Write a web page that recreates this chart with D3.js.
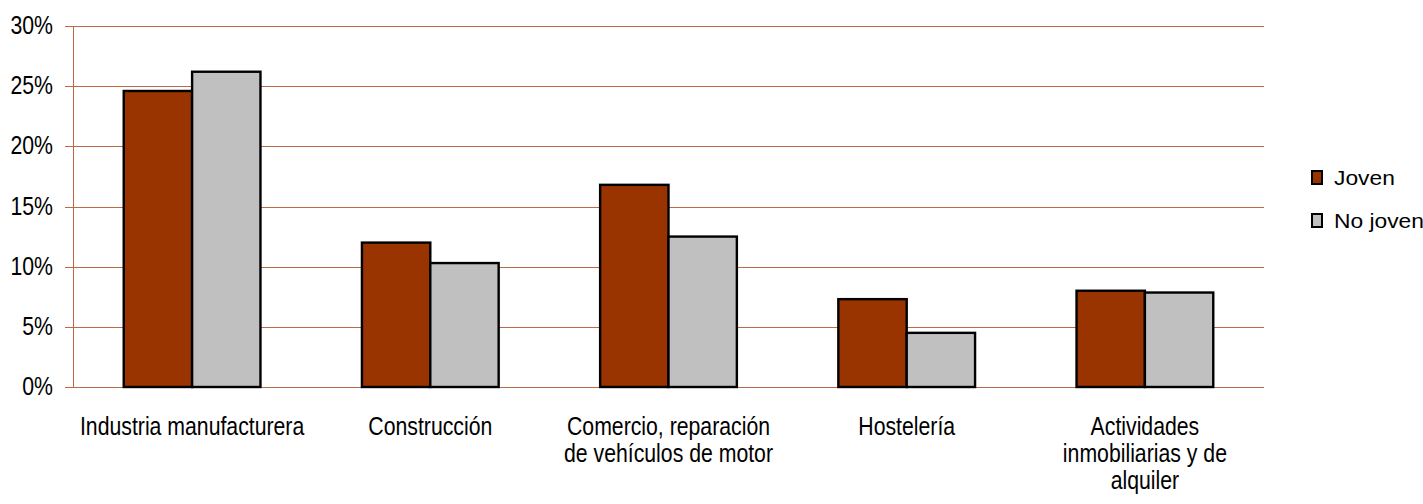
<!DOCTYPE html>
<html>
<head>
<meta charset="utf-8">
<script src="https://cdn.jsdelivr.net/npm/d3@7"></script>
<style>
  html, body { margin: 0; padding: 0; background: #fff; }
  svg { display: block; }
  text { font-family: "Liberation Sans", Arial, sans-serif; }
</style>
</head>
<body>
<svg id="chart"></svg>
<script>
// Data
const categories = [
  "Industria manufacturera",
  "Construcción",
  "Comercio, reparación de vehículos de motor",
  "Hostelería",
  "Actividades inmobiliarias y de alquiler"
];
// wrapped label lines as in the original
const categoryLines = [
  ["Industria manufacturera"],
  ["Construcción"],
  ["Comercio, reparación", "de vehículos de motor"],
  ["Hostelería"],
  ["Actividades", "inmobiliarias y de", "alquiler"]
];
const seriesNames = ["Joven", "No joven"];
const joven = [24.6, 12.0, 16.8, 7.3, 8.0];
const noJoven = [26.2, 10.3, 12.5, 4.5, 7.85];
const yTicks = [0, 5, 10, 15, 20, 25, 30];

const colors = { "Joven": "#993300", "No joven": "#c0c0c0" };
const gridColor = "#bb6a45";
const narrow = 0.85; // the original uses a condensed face

const W = 1423, H = 504;
const margin = { top: 26, right: 159, bottom: 117, left: 73 };
const width = W - margin.left - margin.right;
const height = H - margin.top - margin.bottom;

const svg = d3.select("#chart")
  .attr("width", W)
  .attr("height", H);

const g = svg.append("g")
  .attr("transform", `translate(${margin.left},${margin.top})`);

// Scales
const x0 = d3.scaleBand()
  .domain(categories)
  .range([0, width])
  .paddingInner(0.426)
  .paddingOuter(0.213);

const x1 = d3.scaleBand()
  .domain(seriesNames)
  .range([0, x0.bandwidth()]);

const y = d3.scaleLinear()
  .domain([0, 30])
  .range([height, 0]);

// Gridlines (with the small tick stubs left of the axis)
g.append("g")
  .selectAll("line")
  .data(yTicks)
  .enter()
  .append("line")
  .attr("x1", -8)
  .attr("x2", width)
  .attr("y1", d => Math.round(y(d)) + 0.5)
  .attr("y2", d => Math.round(y(d)) + 0.5)
  .attr("stroke", gridColor)
  .attr("stroke-width", 1);

// y axis line
g.append("line")
  .attr("x1", 0.5).attr("x2", 0.5)
  .attr("y1", 0).attr("y2", height)
  .attr("stroke", gridColor);

// y tick labels
const yAxis = d3.axisLeft(y)
  .tickValues(yTicks)
  .tickSize(0)
  .tickPadding(20)
  .tickFormat(d => d + "%");

g.append("g")
  .attr("id", "y-axis")
  .call(yAxis)
  .call(s => s.select(".domain").remove())
  .selectAll("text")
  .attr("font-size", null)
  .attr("font-family", null)
  .style("font-size", "25px")
  .attr("fill", "#000")
  .attr("x", -20 / narrow)
  .attr("transform", `scale(${narrow},1)`)
  .attr("dy", "0.3em");

// Bars
const rows = categories.map((c, i) => ({ cat: c, values: [
  { key: "Joven", value: joven[i] },
  { key: "No joven", value: noJoven[i] }
] }));

const groups = g.selectAll(".group")
  .data(rows)
  .enter()
  .append("g")
  .attr("class", "group")
  .attr("transform", d => `translate(${x0(d.cat)},0)`);

groups.selectAll("rect")
  .data(d => d.values)
  .enter()
  .append("rect")
  .attr("x", d => x1(d.key))
  .attr("y", d => y(d.value))
  .attr("width", x1.bandwidth())
  .attr("height", d => height - y(d.value))
  .attr("fill", d => colors[d.key])
  .attr("stroke", "#000")
  .attr("stroke-width", 2.4);

// Category labels
const labels = g.append("g")
  .selectAll("text")
  .data(categories)
  .enter()
  .append("text")
  .attr("text-anchor", "middle")
  .attr("transform", d => `translate(${x0(d) + x0.bandwidth() / 2},${height + 48}) scale(${narrow},1)`)
  .style("font-size", "25px")
  .attr("fill", "#000");

labels.selectAll("tspan")
  .data((d, i) => categoryLines[i])
  .enter()
  .append("tspan")
  .attr("x", 0)
  .attr("dy", (d, i) => i === 0 ? 0 : 27)
  .text(d => d);

// Legend
const legend = svg.append("g")
  .attr("transform", "translate(1311,170)");

const items = legend.selectAll("g")
  .data(seriesNames)
  .enter()
  .append("g")
  .attr("transform", (d, i) => `translate(0,${i * 43})`);

items.append("rect")
  .attr("x", 1)
  .attr("y", 1)
  .attr("width", 10)
  .attr("height", 13)
  .attr("fill", d => colors[d])
  .attr("stroke", "#000")
  .attr("stroke-width", 2);

items.append("text")
  .attr("transform", "translate(23,15) scale(1.14,1)")
  .style("font-size", "20px")
  .attr("fill", "#000")
  .text(d => d);
</script>
</body>
</html>
